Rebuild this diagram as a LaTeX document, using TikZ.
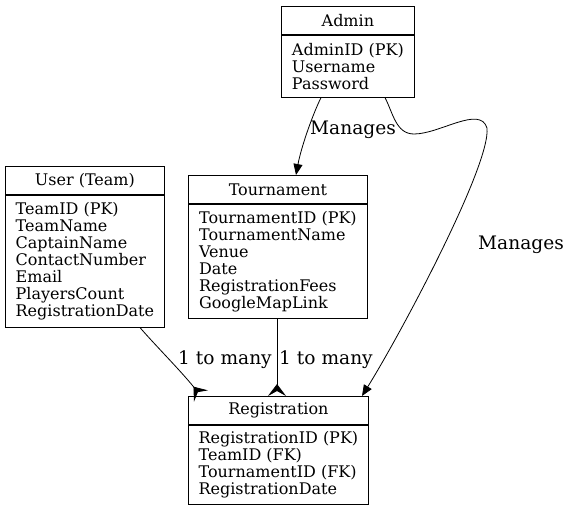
\documentclass[tikz,border=0pt]{standalone}
\usepackage{fontspec}
\setmainfont{DejaVu Serif}
\usetikzlibrary{arrows.meta,positioning}
\begin{document}
\begin{tikzpicture}[x=1pt, y=-1pt, line width=0.8pt,
    headStyle/.style={draw, minimum height=28pt, inner sep=0pt, anchor=north west, font=\fontsize{16}{17}\selectfont},
    bodyStyle/.style={draw, align=left, inner xsep=10pt, inner ysep=0pt, anchor=north west, font=\fontsize{16}{17}\selectfont},
    labelStyle/.style={inner sep=0pt, font=\fontsize{18.6}{20}\selectfont},
    manages/.style={-{Triangle[length=11pt,width=9pt]}},
    oneToMany/.style={-{Stealth[length=12pt,width=18pt,inset=5pt,reversed]}}]
    \useasboundingbox (0,0) rectangle (571,509);

    % Admin
    \node[headStyle, minimum width=133pt] (adminHead) at (281,6) {Admin};
    \node[bodyStyle, minimum width=133pt, minimum height=62pt] (adminBody) at (adminHead.south west) {AdminID (PK)\\Username\\Password};

    % User (Team)
    \node[headStyle, minimum width=159pt] (userHead) at (5,166) {User (Team)};
    \node[bodyStyle, minimum width=159pt, minimum height=132pt] (userBody) at (userHead.south west) {TeamID (PK)\\TeamName\\CaptainName\\ContactNumber\\Email\\PlayersCount\\RegistrationDate};

    % Tournament
    \node[headStyle, minimum width=179pt] (tourHead) at (188,175) {Tournament};
    \node[bodyStyle, minimum width=179pt, minimum height=114pt] (tourBody) at (tourHead.south west) {TournamentID (PK)\\TournamentName\\Venue\\Date\\RegistrationFees\\GoogleMapLink};

    % Registration
    \node[headStyle, minimum width=180pt] (regHead) at (188,396) {Registration};
    \node[bodyStyle, minimum width=180pt, minimum height=79pt] (regBody) at (regHead.south west) {RegistrationID (PK)\\TeamID (FK)\\TournamentID (FK)\\RegistrationDate};

    % Labels
    \node[labelStyle] (managesLeft) at (353,130) {Manages};
    \node[labelStyle] (managesRight) at (521,245) {Manages};
    \node[labelStyle] (userLabel) at (225,360) {1 to many};
    \node[labelStyle] (tourLabel) at (326,360) {1 to many};

    % Edges
    \draw[manages] ([xshift=40pt]adminBody.south west) .. controls (312,116) and (301,148) .. ([xshift=108pt]tourHead.north west);
    \draw[manages] ([xshift=104pt]adminBody.south west) .. controls (393,113) and (396,134) .. (414,134)
        .. controls (440,134) and (480,105) .. (487,128)
        .. controls (491,165) and (400,335) .. ([xshift=174pt]regHead.north west);
    \draw[oneToMany] ([xshift=135pt]userBody.south west) .. controls (155,345) and (180,370) .. ([xshift=13pt]regHead.north west);
    \draw[oneToMany] ([xshift=89pt]tourBody.south west) -- ([xshift=89pt]regHead.north west);
\end{tikzpicture}
\end{document}
